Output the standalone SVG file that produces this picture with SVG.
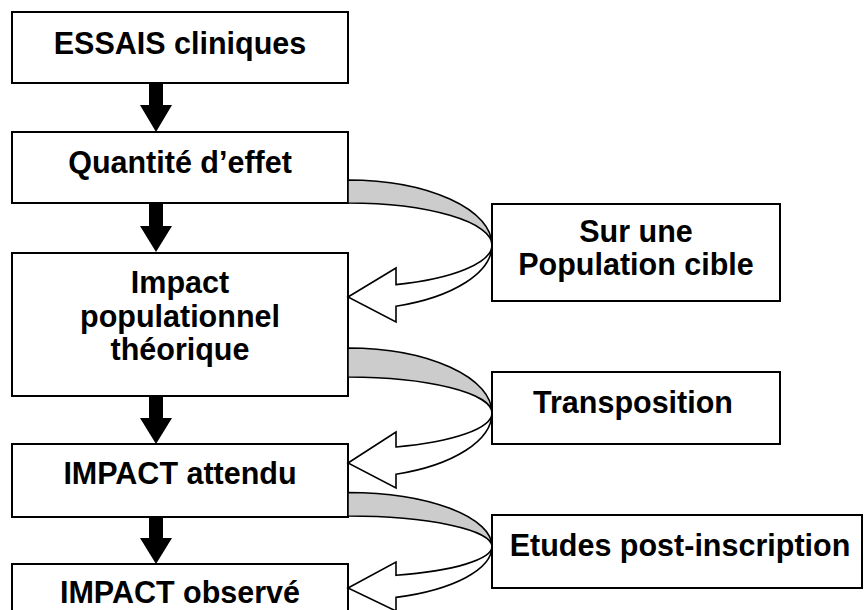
<svg xmlns="http://www.w3.org/2000/svg" width="865" height="610" viewBox="0 0 865 610">
<style>
.box{fill:#fff;stroke:#000;stroke-width:2}
.t{font-family:"Liberation Sans",Arial,sans-serif;font-weight:bold;font-size:30.5px;fill:#000;text-anchor:middle}
.arr{fill:#000}
.back{fill:#cccccc;stroke:#000;stroke-width:1.6;stroke-linejoin:round}
.front{fill:#fff;stroke:#000;stroke-width:1.6;stroke-linejoin:miter}
</style>
<rect width="865" height="610" fill="#fff"/>
<g id="n1"><rect class="box" x="12" y="12" width="336" height="71"/><text class="t" x="180" y="54">ESSAIS cliniques</text></g>
<g id="n2"><rect class="box" x="12" y="132" width="336" height="71"/><text class="t" x="180" y="173">Quantité d’effet</text></g>
<g id="n3"><rect class="box" x="12" y="253" width="336" height="143"/><text class="t" x="180" y="293">Impact</text><text class="t" x="180" y="327">populationnel</text><text class="t" x="180" y="360">théorique</text></g>
<g id="n4"><rect class="box" x="12" y="444" width="336" height="73"/><text class="t" x="180" y="484">IMPACT attendu</text></g>
<g id="n5"><rect class="box" x="12" y="564" width="336" height="80"/><text class="t" x="180" y="603">IMPACT observé</text></g>
<g id="connectors">
<path class="arr" d="M149 83H163V105H172L156 132L140 105H149Z"/>
<path class="arr" d="M149 203H163V226H172L156 252L140 226H149Z"/>
<path class="arr" d="M149 396H163V418H172L156 444L140 418H149Z"/>
<path class="arr" d="M149 517H163V538H172L156 564L140 538H149Z"/>
<path class="back" d="M348 180A144 65 0 0 1 492 245A144 42 0 0 0 348 203Z"/>
<path class="front" d="M492 245A144 65 0 0 1 396 306.3L396 322L348 297L396 268L396 284.6A144 42 0 0 0 492 245Z"/>
<path class="back" d="M348 348A144 65 0 0 1 492 413A144 36 0 0 0 348 377Z"/>
<path class="front" d="M492 413A144 65 0 0 1 396 474.3L396 488L348 463L396 432L396 447A144 36 0 0 0 492 413Z"/>
<path class="back" d="M348 492.5A144 54 0 0 1 492 546.5A144 30.5 0 0 0 348 516Z"/>
<path class="front" d="M492 546.5A144 54 0 0 1 396 597.4L396 611L348 588L396 562L396 575.3A144 30.5 0 0 0 492 546.5Z"/>
</g>
<g id="r1"><rect class="box" x="492" y="204" width="288" height="97"/><text class="t" x="636" y="242">Sur une</text><text class="t" x="636" y="275">Population cible</text></g>
<g id="r2"><rect class="box" x="492" y="372" width="288" height="72"/><text class="t" x="633" y="413">Transposition</text></g>
<g id="r3"><rect class="box" x="492" y="515" width="370" height="73"/><text class="t" x="680" y="556">Etudes post-inscription</text></g>
</svg>
